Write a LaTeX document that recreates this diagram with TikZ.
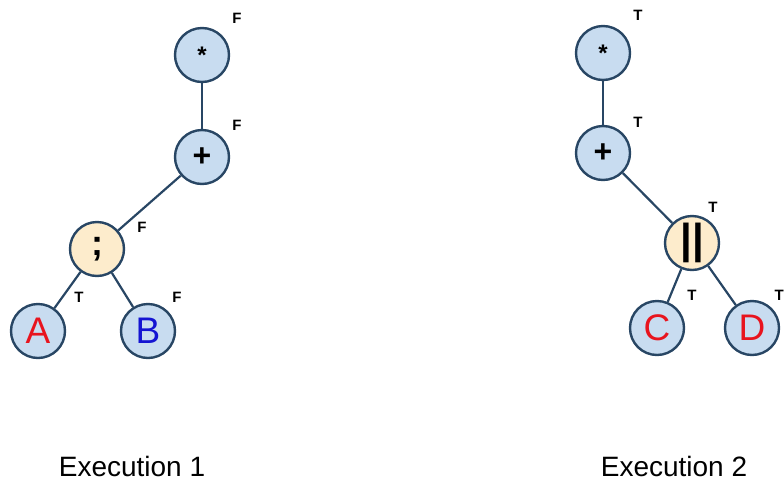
\documentclass[tikz,border=0pt]{standalone}
\usepackage{fontspec}
\setmainfont{Liberation Sans}
\definecolor{nodeblue}{HTML}{C8DCF0}
\definecolor{nodeyellow}{HTML}{FDECCC}
\definecolor{edgecol}{HTML}{284664}
\definecolor{letred}{HTML}{E8141E}
\definecolor{letblue}{HTML}{1414D2}
\begin{document}
\begin{tikzpicture}[x=1pt,y=-1pt,
  tnode/.style={circle,draw=edgecol,line width=2.4pt,minimum size=54pt,inner sep=0pt,fill=nodeblue},
  opnode/.style={tnode,fill=nodeyellow},
  flag/.style={font=\fontsize{15}{15}\selectfont\bfseries,inner sep=0pt},
  letter/.style={font=\fontsize{37}{37}\selectfont},
  edge/.style={draw=edgecol,line width=2.2pt},
  caption/.style={font=\fontsize{28}{28}\selectfont,inner sep=0pt}]
\useasboundingbox (0,0) rectangle (784,485);
% Execution 1
\node[tnode] (s1) at (202,55) {\fontsize{24}{24}\selectfont\bfseries *};
\node[tnode] (p1) at (202,157) {\fontsize{32}{32}\selectfont\bfseries +};
\node[opnode] (q1) at (97,249) {\fontsize{36}{36}\selectfont\bfseries ;};
\node[tnode,letter,text=letred] (a1) at (38,331) {A};
\node[tnode,letter,text=letblue] (b1) at (148,331) {B};
\draw[edge] (s1) -- (p1);
\draw[edge] (p1) -- (q1);
\draw[edge] (q1) -- (a1);
\draw[edge] (q1) -- (b1);
\node[flag] (fs1) at (237,18) {F};
\node[flag] (fp1) at (237,125) {F};
\node[flag] (fq1) at (142,227) {F};
\node[flag] (fa1) at (79,297) {T};
\node[flag] (fb1) at (177,297) {F};
\node[caption] (c1) at (132,466) {Execution 1};
% Execution 2
\node[tnode] (s2) at (603,53) {\fontsize{24}{24}\selectfont\bfseries *};
\node[tnode] (p2) at (603,153) {\fontsize{32}{32}\selectfont\bfseries +};
\node[opnode] (q2) at (692,243) {\fontsize{42}{42}\selectfont\bfseries ||};
\node[tnode,letter,text=letred] (a2) at (657,328) {C};
\node[tnode,letter,text=letred] (b2) at (752,328) {D};
\draw[edge] (s2) -- (p2);
\draw[edge] (p2) -- (q2);
\draw[edge] (q2) -- (a2);
\draw[edge] (q2) -- (b2);
\node[flag] (fs2) at (638,15) {T};
\node[flag] (fp2) at (638,122) {T};
\node[flag] (fq2) at (713,207) {T};
\node[flag] (fa2) at (692,295) {T};
\node[flag,anchor=east] (fb2) at (784,295) {T};
\node[caption] (c2) at (674,466) {Execution 2};
\end{tikzpicture}
\end{document}
